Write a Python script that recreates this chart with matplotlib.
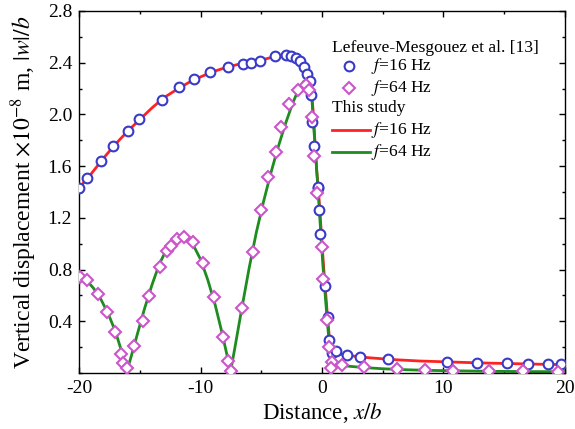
import matplotlib
matplotlib.use('Agg')
import matplotlib.pyplot as plt
from matplotlib.ticker import MultipleLocator

plt.rcParams['font.family'] = ['Liberation Serif', 'DejaVu Serif']
plt.rcParams['mathtext.fontset'] = 'stix'
plt.rcParams['axes.unicode_minus'] = False

# Lefeuve-Mesgouez et al. [13], f=16 Hz (circles)
ref16_x = [-20.0, -19.37, -18.21, -17.18, -15.99, -15.06, -13.2, -11.74, -10.51, -9.24,
           -7.74, -6.5, -5.87, -5.1, -3.87, -2.96, -2.55, -2.14, -1.84, -1.46, -1.21,
           -0.99, -0.9, -0.82, -0.63, -0.35, -0.3, -0.22, -0.14, 0.25, 0.47, 0.6, 0.8,
           1.15, 2.03, 3.13, 5.46, 10.26, 12.78, 15.2, 16.98, 18.63, 19.67]
ref16_y = [1.43, 1.506, 1.64, 1.756, 1.872, 1.962, 2.11, 2.21, 2.276, 2.328,
           2.367, 2.392, 2.40, 2.415, 2.449, 2.459, 2.454, 2.44, 2.413, 2.364, 2.312,
           2.258, 2.152, 1.944, 1.758, 1.433, 1.436, 1.26, 1.075, 0.675, 0.43, 0.255, 0.152,
           0.17, 0.139, 0.126, 0.106, 0.087, 0.08, 0.075, 0.067, 0.067, 0.067]

# Lefeuve-Mesgouez et al. [13], f=64 Hz (diamonds)
ref64_x = [-19.92, -19.37, -18.46, -17.72, -17.04, -16.54, -16.35, -16.07, -15.45, -14.76,
           -14.21, -13.33, -12.73, -12.43, -11.91, -11.36, -10.6, -9.77, -8.91, -8.12,
           -7.71, -7.49, -6.58, -5.65, -5.02, -4.42, -3.81, -3.37, -2.69, -2.0, -1.32,
           -1.05, -0.82, -0.63, -0.41, -0.02, 0.11, 0.44, 0.6, 0.85, 0.74, 1.62, 3.46,
           6.15, 8.48, 10.81, 13.77, 16.57, 19.4]
ref64_y = [0.74, 0.719, 0.608, 0.472, 0.317, 0.149, 0.08, 0.041, 0.211, 0.402,
           0.598, 0.817, 0.946, 0.982, 1.036, 1.049, 1.011, 0.853, 0.59, 0.281,
           0.093, 0.018, 0.505, 0.938, 1.26, 1.518, 1.712, 1.90, 2.083, 2.186, 2.227,
           2.19, 1.978, 1.681, 1.395, 0.972, 0.725, 0.41, 0.203, 0.087, 0.036, 0.062, 0.049,
           0.031, 0.023, 0.018, 0.013, 0.013, 0.01]

# This study, f=16 Hz (red line)
cal16_x = [-20.0, -19.0, -18.0, -17.0, -16.0, -15.0, -14.0, -13.0, -12.0, -11.0, -10.0,
           -9.0, -8.0, -7.0, -6.0, -5.0, -4.0, -3.0, -2.5, -2.0, -1.6, -1.3, -1.1, -0.9,
           -0.75, -0.6, -0.45, -0.3, -0.15, 0.0, 0.15, 0.3, 0.45, 0.6, 0.75, 0.9, 1.1,
           1.5, 2.0, 3.0, 4.0, 6.0, 8.0, 10.0, 12.0, 14.0, 16.0, 18.0, 20.0]
cal16_y = [1.43, 1.54, 1.66, 1.77, 1.87, 1.96, 2.05, 2.13, 2.19, 2.245, 2.29,
           2.33, 2.36, 2.385, 2.405, 2.42, 2.445, 2.46, 2.455, 2.44, 2.40, 2.345, 2.29, 2.20,
           2.05, 1.82, 1.58, 1.42, 1.22, 1.00, 0.80, 0.62, 0.44, 0.28, 0.19, 0.16, 0.15,
           0.145, 0.138, 0.126, 0.117, 0.103, 0.093, 0.087, 0.081, 0.076, 0.072, 0.068, 0.065]

# This study, f=64 Hz (green line)
cal64_x = [-20.0, -19.4, -18.8, -18.2, -17.6, -17.0, -16.5, -16.1, -15.7, -15.2, -14.6,
           -14.0, -13.4, -12.8, -12.2, -11.6, -11.2, -10.6, -10.0, -9.4, -8.8, -8.2,
           -7.8, -7.55, -7.2, -6.6, -6.0, -5.4, -4.8, -4.2, -3.6, -3.0, -2.4, -1.9,
           -1.5, -1.2, -1.0, -0.85, -0.7, -0.5, -0.3, -0.1, 0.1, 0.3, 0.5, 0.7, 0.9,
           1.2, 1.6, 2.5, 3.5, 5.0, 7.0, 9.0, 11.0, 14.0, 17.0, 20.0]
cal64_y = [0.75, 0.72, 0.655, 0.57, 0.46, 0.32, 0.17, 0.0, 0.13, 0.30, 0.50,
           0.68, 0.84, 0.955, 1.025, 1.05, 1.04, 0.99, 0.88, 0.72, 0.53, 0.30,
           0.13, 0.0, 0.18, 0.50, 0.81, 1.09, 1.33, 1.55, 1.75, 1.93, 2.09, 2.20,
           2.255, 2.27, 2.25, 2.15, 1.93, 1.66, 1.38, 1.08, 0.80, 0.56, 0.33, 0.16, 0.09,
           0.066, 0.058, 0.05, 0.042, 0.033, 0.025, 0.02, 0.017, 0.013, 0.011, 0.01]

fig = plt.figure(figsize=(5.75, 4.29), dpi=100)
ax = fig.add_axes([0.1374, 0.1305, 0.8452, 0.8439])

ax.plot(cal16_x, cal16_y, color='#ff2222', lw=2.0, zorder=2)
ax.plot(cal64_x, cal64_y, color='#1e8c1e', lw=2.0, zorder=2)
ax.plot(ref16_x, ref16_y, ls='none', marker='o', ms=7, mfc='white', mec='#3a3ac8',
        mew=1.5, zorder=3)
ax.plot(ref64_x, ref64_y, ls='none', marker='D', ms=6.5, mfc='white', mec='#cc55cc',
        mew=1.5, zorder=3)

ax.set_xlim(-20, 20)
ax.set_ylim(0, 2.8)
ax.set_xticks([-20, -10, 0, 10, 20])
ax.set_yticks([0.4, 0.8, 1.2, 1.6, 2.0, 2.4, 2.8])
ax.set_yticklabels(['0.4', '0.8', '1.2', '1.6', '2.0', '2.4', '2.8'])
ax.xaxis.set_minor_locator(MultipleLocator(5))
ax.yaxis.set_minor_locator(MultipleLocator(0.2))
ax.tick_params(which='both', direction='in', top=True, right=True, labelsize=14)
ax.tick_params(which='major', length=4, width=1, pad=5)
ax.tick_params(which='minor', length=2.5, width=1)
for s in ax.spines.values():
    s.set_linewidth(1.0)

ax.set_xlabel(r'Distance, $x/b$', fontsize=16.5, labelpad=3)
ax.set_ylabel(r'Vertical displacement $\times10^{-8}$ m, $|w|/b$', fontsize=17, labelpad=6)

# legend drawn by hand in axes coordinates
tr = ax.transAxes
fs = 12.6
ax.text(0.520, 0.898, 'Lefeuve-Mesgouez et al. [13]', transform=tr, fontsize=fs, va='center')
ax.plot([0.556], [0.847], transform=tr, marker='o', ms=7, mfc='white', mec='#3a3ac8', mew=1.5)
ax.text(0.600, 0.847, r'$f$=16 Hz', transform=tr, fontsize=fs, va='center')
ax.plot([0.556], [0.786], transform=tr, marker='D', ms=6.5, mfc='white', mec='#cc55cc', mew=1.5)
ax.text(0.600, 0.786, r'$f$=64 Hz', transform=tr, fontsize=fs, va='center')
ax.text(0.520, 0.731, 'This study', transform=tr, fontsize=fs, va='center')
ax.plot([0.520, 0.598], [0.671, 0.671], transform=tr, color='#ff2222', lw=2.0)
ax.text(0.600, 0.671, r'$f$=16 Hz', transform=tr, fontsize=fs, va='center')
ax.plot([0.520, 0.598], [0.610, 0.610], transform=tr, color='#1e8c1e', lw=2.0)
ax.text(0.600, 0.610, r'$f$=64 Hz', transform=tr, fontsize=fs, va='center')

fig.savefig('out.png', dpi=100)
